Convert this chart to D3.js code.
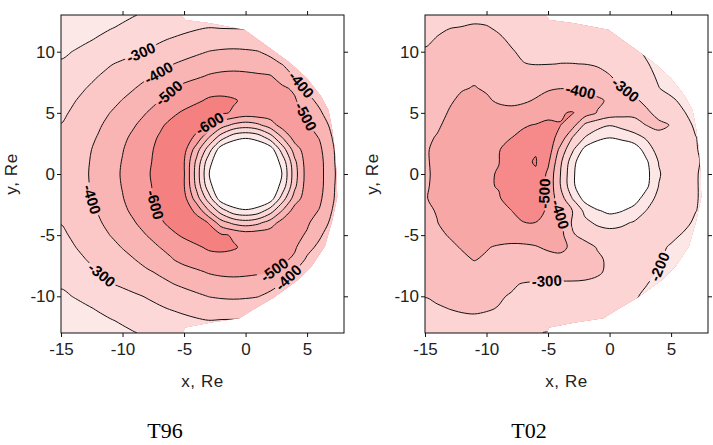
<!DOCTYPE html>
<html>
<head>
<meta charset="utf-8">
<script src="https://cdn.jsdelivr.net/npm/d3@7"></script>
<style>
  body { margin: 0; background: #fff; }
  svg { display: block; }
  svg text { font-family: "Liberation Sans", Arial, sans-serif; }
</style>
</head>
<body>
<svg id="chart" width="713" height="445"></svg>
<script>
// grid nodes (Re), rows run from y = 13 down to y = -13
var gridX = d3.range(-15, 9);
var gridY = d3.range(13, -14, -1);

var levels = [-600, -500, -400, -300, -200, -100];

// T96 field, one row per y
var t96Rows = [
  [-120,-133,-146,-160,-173,-186,-198,-210,-222,-233,-243,-252,-259,-264,-266,-263,-255,-242,-224,-200,-170,-138,-108,-78],
  [-140,-153,-167,-181,-195,-208,-222,-235,-249,-262,-276,-289,-298,-294,-292,-290,-282,-268,-248,-222,-190,-155,-120,-85],
  [-160,-175,-190,-206,-223,-240,-256,-273,-290,-306,-322,-336,-347,-355,-358,-355,-345,-325,-295,-255,-210,-170,-130,-95],
  [-185,-202,-219,-236,-254,-271,-288,-306,-325,-344,-363,-383,-402,-410,-413,-410,-403,-380,-345,-300,-250,-200,-155,-115],
  [-210,-230,-255,-275,-295,-313,-333,-354,-375,-396,-418,-438,-452,-462,-465,-460,-448,-428,-397,-345,-290,-235,-185,-140],
  [-225,-250,-275,-299,-322,-344,-367,-389,-412,-437,-461,-485,-508,-520,-525,-522,-515,-507,-456,-394,-330,-270,-210,-160],
  [-245,-272,-299,-325,-350,-375,-399,-431,-462,-494,-530,-552,-565,-570,-568,-560,-550,-535,-515,-485,-380,-310,-240,-180],
  [-265,-294,-322,-349,-376,-403,-435,-467,-499,-529,-557,-586,-612,-618,-608,-585,-570,-555,-535,-510,-440,-370,-300,-230],
  [-283,-312,-341,-371,-401,-433,-467,-502,-540,-580,-615,-640,-630,-615,-590,-560,-565,-560,-555,-525,-490,-420,-330,-260],
  [-303,-331,-360,-389,-422,-459,-496,-539,-583,-625,-645,-640,-598,-450,-380,-350,-380,-450,-545,-560,-512,-455,-380,-300],
  [-312,-344,-373,-404,-442,-481,-522,-565,-608,-650,-650,-580,-405,-250,-140,-110,-140,-250,-405,-545,-540,-495,-402,-310],
  [-330,-358,-385,-416,-456,-496,-538,-580,-620,-660,-635,-450,-250,-40,0,0,0,-40,-250,-450,-555,-520,-420,-320],
  [-338,-363,-388,-425,-465,-504,-546,-587,-622,-665,-605,-380,-140,0,0,0,0,0,-140,-380,-550,-535,-425,-325],
  [-340,-365,-390,-431,-469,-508,-550,-592,-625,-668,-608,-360,-105,0,0,0,0,0,-105,-360,-545,-535,-430,-330],
  [-338,-363,-388,-425,-465,-504,-546,-587,-622,-665,-605,-380,-140,0,0,0,0,0,-140,-380,-550,-535,-425,-325],
  [-330,-358,-385,-416,-456,-496,-538,-580,-620,-660,-635,-450,-250,-40,0,0,0,-40,-250,-450,-555,-520,-420,-320],
  [-312,-344,-373,-404,-442,-481,-522,-565,-608,-650,-650,-580,-405,-250,-140,-110,-140,-250,-405,-545,-540,-495,-402,-310],
  [-303,-331,-360,-389,-422,-459,-496,-539,-583,-625,-645,-640,-598,-450,-380,-350,-380,-450,-545,-560,-512,-455,-380,-300],
  [-283,-312,-341,-371,-401,-433,-467,-502,-540,-580,-615,-640,-630,-615,-590,-560,-565,-560,-555,-525,-490,-420,-330,-260],
  [-265,-294,-322,-349,-376,-403,-435,-467,-499,-529,-557,-586,-612,-618,-608,-585,-570,-555,-535,-510,-440,-370,-300,-230],
  [-245,-272,-299,-325,-350,-375,-399,-431,-462,-494,-530,-552,-565,-570,-568,-560,-550,-535,-515,-485,-380,-310,-240,-180],
  [-225,-250,-275,-299,-322,-344,-367,-389,-412,-437,-461,-485,-508,-520,-525,-522,-515,-507,-456,-394,-330,-270,-210,-160],
  [-210,-230,-255,-275,-295,-313,-333,-354,-375,-396,-418,-438,-452,-462,-465,-460,-448,-428,-397,-345,-290,-235,-185,-140],
  [-185,-202,-219,-236,-254,-271,-288,-306,-325,-344,-363,-383,-402,-410,-413,-410,-403,-380,-345,-300,-250,-200,-155,-115],
  [-160,-175,-190,-206,-223,-240,-256,-273,-290,-306,-322,-336,-347,-355,-358,-355,-345,-325,-295,-255,-210,-170,-130,-95],
  [-140,-153,-167,-181,-195,-208,-222,-235,-249,-262,-276,-289,-298,-294,-292,-290,-282,-268,-248,-222,-190,-155,-120,-85],
  [-120,-133,-146,-160,-173,-186,-198,-210,-222,-233,-243,-252,-259,-264,-266,-263,-255,-242,-224,-200,-170,-138,-108,-78]
];

// T02 field
var t02Rows = [
  [-270,-275,-280,-283,-284,-283,-278,-272,-266,-260,-255,-250,-245,-238,-230,-220,-210,-198,-185,-170,-155,-140,-125,-110],
  [-285,-292,-298,-301,-306,-303,-292,-282,-275,-270,-265,-262,-258,-252,-245,-236,-225,-210,-195,-180,-165,-150,-135,-120],
  [-292,-303,-315,-322,-325,-320,-308,-292,-285,-280,-277,-275,-272,-268,-262,-255,-240,-222,-200,-185,-170,-155,-140,-125],
  [-305,-322,-338,-348,-352,-345,-330,-305,-290,-284,-282,-281,-280,-278,-273,-265,-250,-220,-190,-175,-160,-145,-130,-115],
  [-318,-338,-355,-368,-372,-365,-350,-330,-302,-297,-298,-301,-301,-299,-292,-280,-262,-238,-205,-180,-165,-150,-135,-120],
  [-330,-352,-372,-385,-390,-383,-368,-352,-340,-345,-352,-360,-358,-345,-325,-303,-278,-250,-220,-190,-170,-155,-140,-125],
  [-340,-362,-383,-396,-403,-394,-378,-368,-370,-382,-393,-399,-396,-385,-362,-335,-305,-275,-240,-202,-180,-165,-150,-135],
  [-350,-372,-393,-412,-420,-408,-392,-385,-392,-405,-425,-440,-445,-435,-418,-385,-350,-315,-280,-245,-212,-185,-165,-150],
  [-355,-380,-405,-425,-435,-432,-422,-420,-425,-440,-465,-495,-505,-455,-395,-355,-335,-320,-315,-275,-245,-205,-175,-160],
  [-360,-390,-420,-440,-452,-460,-470,-480,-492,-505,-525,-502,-440,-280,-235,-205,-230,-268,-302,-318,-296,-235,-185,-165],
  [-385,-405,-430,-455,-470,-482,-490,-498,-520,-550,-540,-470,-298,-198,-140,-105,-130,-160,-215,-275,-296,-255,-202,-170],
  [-392,-415,-440,-462,-478,-488,-496,-530,-570,-592,-560,-370,-215,-70,0,0,0,-40,-145,-245,-275,-260,-205,-175],
  [-390,-418,-445,-468,-483,-492,-498,-545,-585,-606,-520,-320,-140,0,0,0,0,0,-85,-205,-262,-258,-210,-180],
  [-385,-420,-447,-468,-480,-490,-505,-550,-578,-590,-480,-302,-120,0,0,0,0,0,-70,-190,-255,-255,-205,-180],
  [-388,-422,-448,-468,-480,-490,-505,-548,-572,-582,-475,-302,-125,0,0,0,0,0,-80,-203,-258,-255,-205,-180],
  [-392,-428,-452,-470,-482,-490,-492,-540,-566,-572,-460,-350,-195,-60,0,0,0,-50,-150,-230,-262,-255,-205,-180],
  [-385,-405,-440,-468,-480,-488,-495,-498,-540,-550,-480,-390,-298,-175,-110,-75,-95,-140,-202,-245,-262,-250,-202,-175],
  [-385,-398,-430,-455,-470,-480,-487,-492,-496,-497,-470,-420,-285,-225,-185,-170,-185,-210,-240,-260,-255,-222,-185,-165],
  [-365,-385,-405,-425,-440,-445,-440,-432,-430,-432,-430,-435,-310,-270,-250,-235,-235,-240,-245,-240,-220,-192,-170,-155],
  [-345,-365,-385,-405,-415,-405,-390,-385,-388,-395,-410,-418,-385,-335,-295,-275,-260,-250,-240,-218,-190,-172,-160,-150],
  [-325,-345,-365,-385,-403,-390,-378,-370,-368,-370,-375,-378,-365,-340,-315,-285,-265,-250,-235,-210,-180,-165,-155,-145],
  [-315,-332,-348,-362,-370,-365,-355,-345,-335,-330,-328,-330,-330,-325,-312,-285,-262,-245,-225,-195,-170,-158,-150,-140],
  [-308,-320,-332,-342,-345,-338,-322,-308,-296,-292,-290,-290,-290,-288,-280,-265,-245,-225,-202,-180,-165,-155,-145,-135],
  [-302,-310,-318,-322,-322,-315,-305,-296,-285,-278,-272,-268,-265,-260,-252,-240,-225,-207,-188,-172,-160,-150,-140,-130],
  [-285,-294,-301,-306,-308,-304,-298,-288,-278,-270,-262,-256,-250,-245,-238,-228,-215,-200,-185,-170,-158,-148,-138,-128],
  [-270,-278,-284,-288,-290,-288,-282,-272,-258,-245,-235,-228,-222,-215,-208,-201,-190,-180,-170,-160,-150,-140,-130,-120],
  [-255,-262,-266,-268,-266,-260,-250,-238,-222,-205,-196,-190,-185,-178,-170,-162,-155,-148,-140,-132,-125,-118,-110,-102]
];

// edge of the modelled region (Re), same for both panels
var domainEdge = [[-15,13],[-5.2,13],[-4.9,12.6],[-3.0,12.35],[-0.1,11.8],[1.0,11.0],[2.1,10.2],[3.6,9.1],
  [5.0,7.8],[6.1,6.4],[6.75,5.2],[7.05,3.6],[7.25,2.0],[7.4,0],[7.45,-1.9],[7.05,-3.8],[6.45,-5.9],
  [5.4,-7.5],[4.2,-8.7],[2.3,-10.1],[0.6,-11.1],[-0.5,-11.8],[-2.8,-12.15],[-4.9,-12.55],[-5.1,-13],[-15,-13]];

var xTicks = [-15, -10, -5, 0, 5];
var yTicks = [-10, -5, 0, 5, 10];

// where the contour labels sit (level, approx spot in Re)
var t96Labels = [[-300,[-8.5,9.9]],[-400,[-7.1,8.3]],[-500,[-6.3,6.7]],[-600,[-2.9,4.1]],[-400,[4.4,7.2]],
  [-500,[4.9,4.7]],[-400,[-12.3,-2.0]],[-600,[-7.3,-2.5]],[-300,[-11.4,-7.9]],[-500,[1.8,-7.2]],[-400,[3.4,-8.4]]];
var t02Labels = [[-400,[-2.4,6.6]],[-300,[1.3,6.9]],[-500,[-5.3,-1.6]],[-400,[-4.0,-3.3]],[-300,[-5.1,-8.8]],[-200,[4.1,-7.6]]];

// band colours, darkest (below -600) to the hole (above -100)
var t96Fill = ["#f58080", "#f79d9d", "#f9b4b4", "#fbc7c7", "#fcd8d8", "#fde8e8", "#ffffff"];
var t02Fill = ["#f47c7c", "#f68a8a", "#f8a7a7", "#fabebe", "#fcd4d4", "#fde6e6", "#ffffff"];

const W = 713, H = 445;
const plotTop = 15, plotH = 318, plotW = 283;

var panels = [
  { name: "T96", rows: t96Rows, fill: t96Fill, left: 61, labels: t96Labels, titleX: 165, yLabelX: 11 },
  { name: "T02", rows: t02Rows, fill: t02Fill, left: 425, labels: t02Labels, titleX: 529, yLabelX: 372 }
];

const svg = d3.select("#chart");
const defs = svg.append("defs");
const mask = defs.append("mask").attr("id", "gap")
    .attr("maskUnits", "userSpaceOnUse")
    .attr("x", 0).attr("y", 0).attr("width", W).attr("height", H);
mask.append("rect").attr("width", W).attr("height", H).attr("fill", "white");

const smooth = d3.line().curve(d3.curveCatmullRomClosed.alpha(0.5));

panels.forEach(function (p, k) {
    const x = d3.scaleLinear().domain([-15, 8]).range([p.left, p.left + plotW]);
    const y = d3.scaleLinear().domain([-13, 13]).range([plotTop + plotH, plotTop]);

    const nx = gridX.length, ny = gridY.length;
    // d3.contours puts grid value i at coordinate i + 0.5
    const gx = d3.scaleLinear().domain([0.5, nx - 0.5]).range([x(gridX[0]), x(gridX[nx - 1])]);
    const gy = d3.scaleLinear().domain([0.5, ny - 0.5]).range([y(gridY[0]), y(gridY[ny - 1])]);

    const bands = d3.contours().size([nx, ny]).thresholds(levels)(p.rows.flat());

    const toPx = ring => ring.slice(0, -1).map(([a, b]) => [gx(a), gy(b)]);
    const bandPath = b => b.coordinates.map(poly => poly.map(r => smooth(toPx(r))).join("")).join("");

    defs.append("clipPath").attr("id", "dom" + k)
        .append("path")
        .attr("d", d3.line()(domainEdge.map(([a, b]) => [x(a), y(b)])) + "Z");

    const g = svg.append("g").attr("clip-path", `url(#dom${k})`);

    g.append("rect")
        .attr("x", x(-15)).attr("y", y(13))
        .attr("width", plotW).attr("height", plotH)
        .attr("fill", p.fill[0]);

    g.selectAll("path.band")
        .data(bands)
        .join("path")
        .attr("class", "band")
        .attr("d", bandPath)
        .attr("fill", (d, i) => p.fill[i + 1])
        .attr("fill-rule", "evenodd");

    g.append("g")
        .attr("mask", "url(#gap)")
        .selectAll("path")
        .data(bands)
        .join("path")
        .attr("d", bandPath)
        .attr("fill", "none")
        .attr("stroke", "#111")
        .attr("stroke-width", 1);

    // contour labels, snapped onto their line
    const lab = svg.append("g");
    p.labels.forEach(function ([lv, [ax, ay]]) {
        const band = bands.find(b => b.value === lv);
        const px = x(ax), py = y(ay);
        let best = null;
        band.coordinates.forEach(poly => poly.forEach(r => {
            const pts = r.map(([a, b]) => [gx(a), gy(b)]);
            const n = pts.length - 1;
            for (let i = 0; i < n; i++) {
                const [x0, y0] = pts[i], [x1, y1] = pts[i + 1];
                const dx = x1 - x0, dy = y1 - y0, L = dx * dx + dy * dy || 1;
                let t = ((px - x0) * dx + (py - y0) * dy) / L;
                t = Math.max(0, Math.min(1, t));
                const qx = x0 + t * dx, qy = y0 + t * dy;
                const d = (qx - px) ** 2 + (qy - py) ** 2;
                if (!best || d < best.d) {
                    const a = pts[(i - 1 + n) % n], b = pts[(i + 2) % n];
                    best = { d, qx, qy, ang: Math.atan2(b[1] - a[1], b[0] - a[0]) * 180 / Math.PI };
                }
            }
        }));
        let ang = best.ang;
        if (ang > 90) ang -= 180;
        if (ang <= -90) ang += 180;
        const tr = `translate(${best.qx},${best.qy}) rotate(${ang})`;
        const txt = lab.append("text")
            .attr("transform", tr)
            .attr("text-anchor", "middle")
            .attr("dy", "0.36em")
            .style("font-size", "15px")
            .style("font-weight", "bold")
            .text(String(lv));
        const w = txt.node().getComputedTextLength();
        mask.append("rect")
            .attr("transform", tr)
            .attr("x", -w / 2 - 2).attr("y", -7)
            .attr("width", w + 4).attr("height", 14)
            .attr("fill", "black");
    });

    // frame and ticks
    const ax = svg.append("g");
    ax.append("g").attr("transform", `translate(0,${y(-13)})`)
        .call(d3.axisBottom(x).tickValues(xTicks).tickSize(4).tickPadding(6).tickFormat(d => String(d)));
    ax.append("g").attr("transform", `translate(0,${y(13)})`)
        .call(d3.axisTop(x).tickValues(xTicks.slice(1)).tickSize(4).tickFormat(""));
    ax.append("g").attr("transform", `translate(${x(-15)},0)`)
        .call(d3.axisLeft(y).tickValues(yTicks).tickSize(4).tickPadding(2).tickFormat(d => String(d)));
    ax.append("g").attr("transform", `translate(${x(8)},0)`)
        .call(d3.axisRight(y).tickValues(yTicks).tickSize(4).tickFormat(""));
    ax.selectAll(".domain").remove();
    ax.selectAll("line").attr("stroke", "#111");
    ax.selectAll("text")
        .attr("fill", "#222")
        .style("font-size", "17px")
        .style("font-family", '"Liberation Sans", Arial, sans-serif');

    svg.append("rect")
        .attr("x", x(-15)).attr("y", y(13))
        .attr("width", plotW).attr("height", plotH)
        .attr("fill", "none").attr("stroke", "#111").attr("stroke-width", 1);

    svg.append("text")
        .attr("x", x(-15) + plotW / 2).attr("y", 387)
        .attr("text-anchor", "middle")
        .style("font-size", "17px").style("letter-spacing", "0.6px").attr("fill", "#222")
        .text("x, Re");

    svg.append("text")
        .attr("transform", `translate(${p.yLabelX},${y(0)}) rotate(-90)`)
        .attr("text-anchor", "middle")
        .attr("dy", "0.35em")
        .style("font-size", "17px").style("letter-spacing", "0.6px").attr("fill", "#222")
        .text("y, Re");

    svg.append("text")
        .attr("x", p.titleX).attr("y", 438)
        .attr("text-anchor", "middle")
        .style("font-family", '"Liberation Serif", "Times New Roman", serif')
        .style("font-size", "22px")
        .text(p.name);
});
</script>
</body>
</html>
